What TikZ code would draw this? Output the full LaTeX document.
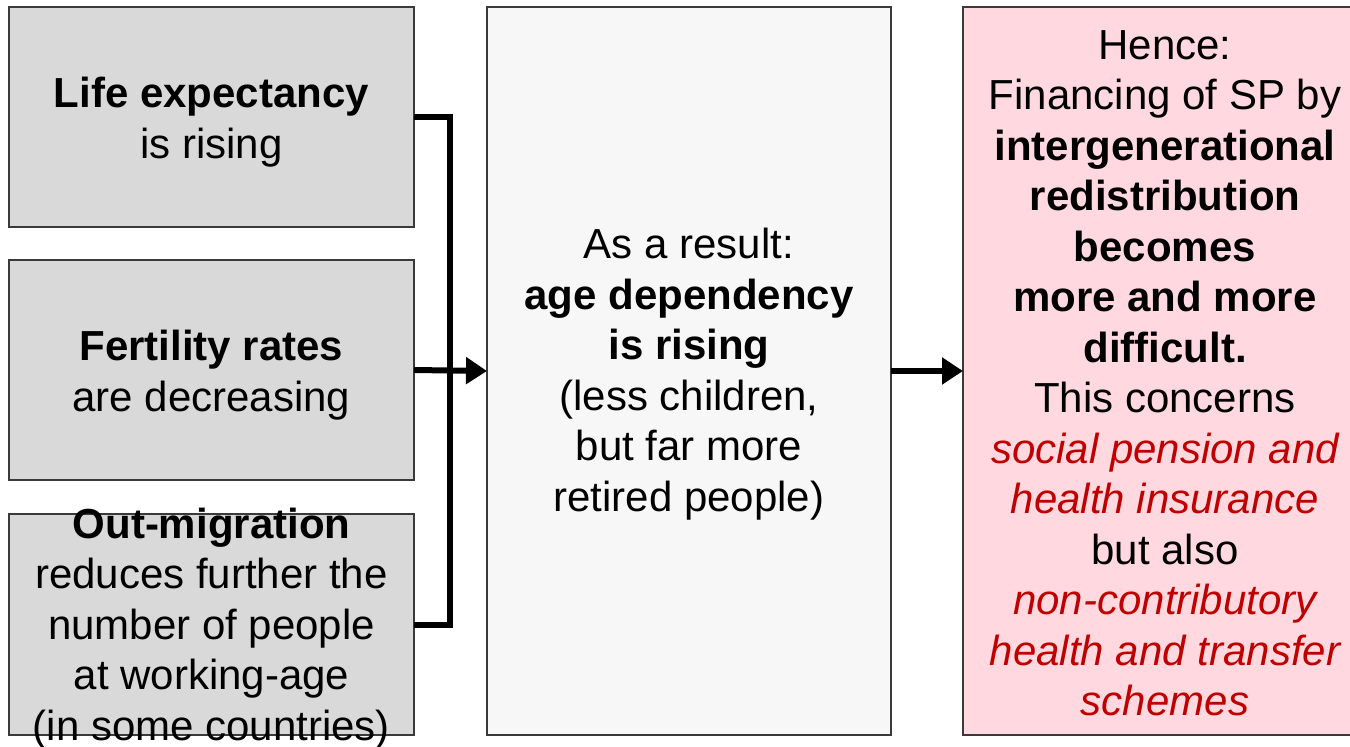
\documentclass[tikz,border=0pt]{standalone}
\usepackage{fontspec}
\setmainfont{Liberation Sans}
\usetikzlibrary{arrows.meta}
\definecolor{causegray}{HTML}{D9D9D9}
\definecolor{midgray}{HTML}{F7F7F7}
\definecolor{pinkfill}{HTML}{FFD9DF}
\definecolor{darkred}{HTML}{C00000}
\definecolor{edgegray}{HTML}{3A3A3A}
\begin{document}
\begin{tikzpicture}[x=1pt,y=-1pt,
  panel/.style={draw=edgegray,line width=1.2pt,inner sep=0pt,outer sep=0pt},
  txt/.style={align=center,inner sep=0pt,font=\fontsize{42}{50.5}\selectfont},
  conn/.style={line width=6pt,line join=miter,draw=black},
  flow/.style={conn,-{Triangle[length=21pt,width=26pt]}}]
\useasboundingbox (0,0) rectangle (1350,747);
\begin{scope}
\clip (0,0) rectangle (1350,747);
% boxes
\node[panel,fill=causegray,minimum width=405pt,minimum height=220pt] (b1) at (211.5,117) {};
\node[panel,fill=causegray,minimum width=405pt,minimum height=220pt] (b2) at (211.5,370) {};
\node[panel,fill=causegray,minimum width=405pt,minimum height=221pt] (b3) at (211.5,624.5) {};
\node[panel,fill=midgray,minimum width=404pt,minimum height=728pt] (mid) at (689,371) {};
\node[panel,fill=pinkfill,minimum width=404pt,minimum height=728pt] (res) at (1165,371) {};
% texts
\node[txt,yshift=-5pt] (t1) at (b1.center) {\textbf{Life expectancy}\\is rising};
\node[txt,yshift=-5pt] (t2) at (b2.center) {\textbf{Fertility rates}\\are decreasing};
\node[txt,yshift=-4pt] (t3) at (b3.center) {\textbf{Out-migration}\\reduces further the\\number of people\\at working-age\\(in some countries)};
\node[txt,yshift=-3pt] (tm) at (mid.center) {As a result:\\\textbf{age dependency}\\\textbf{is rising}\\(less children,\\but far more\\retired people)};
\node[txt,yshift=-2pt] (tr) at (res.center) {Hence:\\Financing of SP by\\\textbf{intergenerational}\\\textbf{redistribution}\\\textbf{becomes}\\\textbf{more and more}\\\textbf{difficult.}\\This concerns\\\textcolor{darkred}{\itshape social pension and}\\\textcolor{darkred}{\itshape health insurance}\\but also\\\textcolor{darkred}{\itshape non-contributory}\\\textcolor{darkred}{\itshape health and transfer}\\\textcolor{darkred}{\itshape schemes}};
% connectors
\coordinate (bus) at (450,0);
\draw[conn] (b1.east) -| (bus |- b3.east) -- (b3.east);
\draw[flow] (b2.east) -- (mid.west);
\draw[flow] (mid.east) -- (res.west);
\end{scope}
\end{tikzpicture}
\end{document}
